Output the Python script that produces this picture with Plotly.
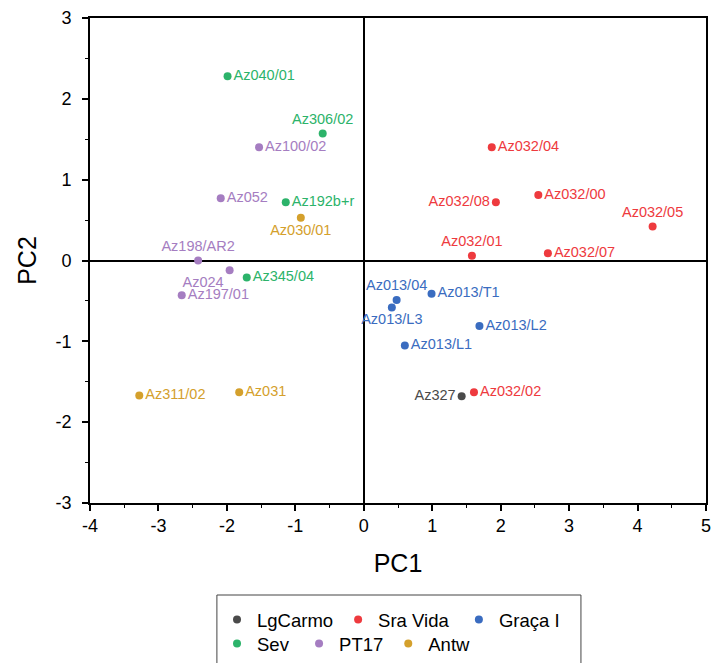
import plotly.graph_objects as go

# ---------------- data ----------------
groups = ["LgCarmo", "Sra Vida\u00a0", "Graça I", "Sev\u00a0", "PT17", "Antw"]
colors = ["#4a4a4a", "#ee3a3e", "#3a6cc0", "#2cb36a", "#a57dc1", "#d4a02c"]

lg_names = ["Az327"]
lg_pc1 = [1.43]
lg_pc2 = [-1.68]
lg_pos = ["middle left"]

sv_names = ["Az032/04", "Az032/08", "Az032/00", "Az032/05", "Az032/01", "Az032/07", "Az032/02"]
sv_pc1 = [1.87, 1.93, 2.55, 4.22, 1.58, 2.69, 1.61]
sv_pc2 = [1.40, 0.72, 0.81, 0.42, 0.06, 0.09, -1.63]
sv_pos = ["middle right", "middle left", "middle right", "top center", "top center", "middle right", "middle right"]

gr_names = ["Az013/04", "Az013/L3", "Az013/T1", "Az013/L2", "Az013/L1"]
gr_pc1 = [0.48, 0.41, 0.99, 1.69, 0.60]
gr_pc2 = [-0.49, -0.58, -0.41, -0.81, -1.05]
gr_pos = ["top center", "bottom center", "middle right", "middle right", "middle right"]

se_names = ["Az040/01", "Az306/02", "Az192b+r", "Az345/04"]
se_pc1 = [-1.99, -0.60, -1.14, -1.71]
se_pc2 = [2.28, 1.57, 0.72, -0.21]
se_pos = ["middle right", "top center", "middle right", "middle right"]

pt_names = ["Az100/02", "Az052", "Az198/AR2", "Az024", "Az197/01"]
pt_pc1 = [-1.53, -2.09, -2.42, -1.96, -2.66]
pt_pc2 = [1.40, 0.77, 0.00, -0.12, -0.43]
pt_pos = ["middle right", "middle right", "top center", "bottom left", "middle right"]

an_names = ["Az030/01", "Az311/02", "Az031"]
an_pc1 = [-0.92, -3.28, -1.82]
an_pc2 = [0.53, -1.67, -1.63]
an_pos = ["bottom center", "middle right", "middle right"]

x_ticks = [-4, -3, -2, -1, 0, 1, 2, 3, 4, 5]
x_ticktext = ["-4", "-3", "-2", "-1", "0", "1", "2", "3", "4", "5"]
y_ticks = [-3, -2, -1, 0, 1, 2, 3]
y_ticktext = ["-3", "-2", "-1", "0", "1", "2", "3"]

series = [
    (lg_names, lg_pc1, lg_pc2, lg_pos),
    (sv_names, sv_pc1, sv_pc2, sv_pos),
    (gr_names, gr_pc1, gr_pc2, gr_pos),
    (se_names, se_pc1, se_pc2, se_pos),
    (pt_names, pt_pc1, pt_pc2, pt_pos),
    (an_names, an_pc1, an_pc2, an_pos),
]

FONT = "Liberation Sans, Arial, sans-serif"

fig = go.Figure()
for i, (g, c, (nm, px, py, pos)) in enumerate(zip(groups, colors, series)):
    fig.add_trace(go.Scatter(
        x=px, y=py, text=nm, name=g,
        mode="markers+text",
        textposition=pos,
        textfont=dict(family=FONT, size=14.5, color=c),
        marker=dict(color=c, size=8),
        legend="legend" if i < 3 else "legend2",
        cliponaxis=False,
    ))

axis_common = dict(
    showline=True, linecolor="black", linewidth=1.6, mirror=True,
    ticks="outside", ticklen=6, tickwidth=1.5, tickcolor="black",
    showgrid=False, automargin=False,
    zeroline=True, zerolinecolor="black", zerolinewidth=1.5,
    tickfont=dict(family=FONT, size=18, color="black"),
    minor=dict(ticks="outside", ticklen=3.5, tickwidth=1.2, tickcolor="black", dtick=0.5, showgrid=False),
)

fig.update_xaxes(range=[-4, 5], tickvals=x_ticks, ticktext=x_ticktext, **axis_common,
                 title=dict(text="PC1", font=dict(family=FONT, size=25, color="black"), standoff=19))
fig.update_yaxes(range=[-3, 3], tickvals=y_ticks, ticktext=y_ticktext, ticklabelstandoff=7, **axis_common,
                 title=dict(text="PC2", font=dict(family=FONT, size=25, color="black"), standoff=12))

leg_common = dict(
    orientation="h", xanchor="left", yanchor="top",
    xref="container", yref="container",
    font=dict(family=FONT, size=18.5, color="black"),
    bgcolor="rgba(0,0,0,0)", borderwidth=0,
    itemclick=False, itemdoubleclick=False,
)

fig.update_layout(
    width=712, height=663,
    margin=dict(l=90, r=6, t=18, b=160),
    plot_bgcolor="white", paper_bgcolor="white",
    font=dict(family=FONT, color="black"),
    legend=dict(x=0.3048, y=0.0935, **leg_common),
    legend2=dict(x=0.3048, y=0.0573, **leg_common),
    shapes=[dict(type="rect", xref="paper", yref="paper",
                 x0=0.206, x1=0.797, y0=-0.40, y1=-0.1897,
                 line=dict(color="#444", width=1), fillcolor="rgba(0,0,0,0)")],
)

fig.write_html("out.html", config={"displayModeBar": False},
               post_script="document.body.style.margin='0px';")
